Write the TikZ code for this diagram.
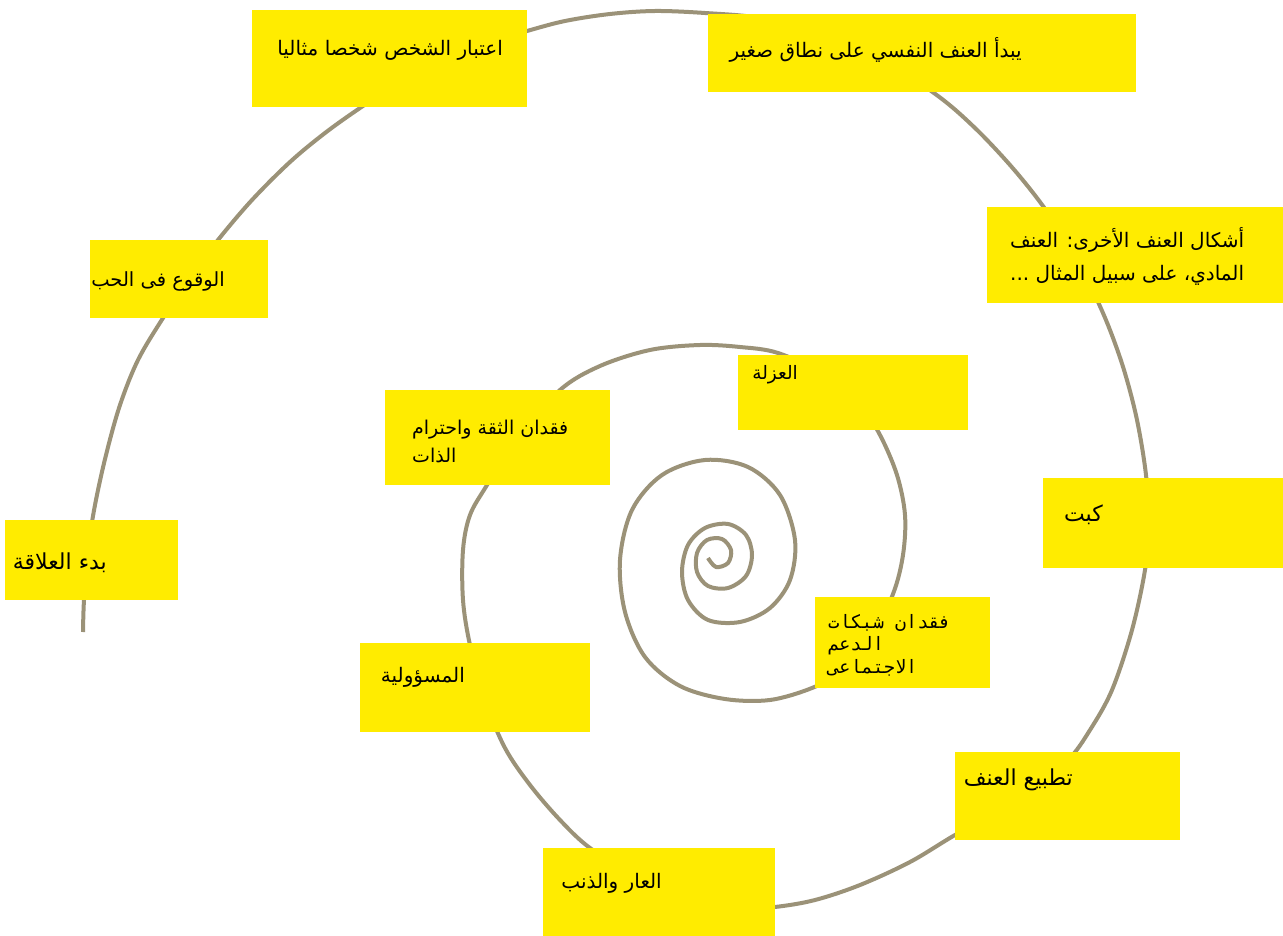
\documentclass[tikz,border=0pt]{standalone}
\usepackage{fontspec}
\TeXXeTstate=1
\newfontfamily\arabicfont[Script=Arabic]{DejaVu Sans}
\newfontfamily\arabicmono[Script=Arabic]{DejaVu Sans Mono}
\definecolor{note}{RGB}{255,236,0}
\definecolor{coil}{RGB}{155,146,120}
\begin{document}
\begin{tikzpicture}[x=1pt,y=-1pt,
  notebox/.style={fill=note,draw=none,inner sep=0pt},
  lbl/.style={inner sep=0pt,font=\arabicfont\fontsize{20}{24}\selectfont,text=black},
  coilline/.style={draw=coil,line width=4pt,line cap=butt}]
\useasboundingbox (0,0) rectangle (1283,936);
\fill[white] (0,0) rectangle (1283,936);
\draw[coilline] plot[smooth,tension=0.55] coordinates {
(83,632) (84,600) (88,550) (95,505) (106,455) (120,405) (138,360) (163,318) (190,278) (218,240)
(252,200) (290,162) (325,133) (360,108) (400,82) (445,58) (490,42) (527,31) (565,21) (610,14)
(655,11) (705,13) (760,18) (820,33) (880,58) (938,96) (975,128) (1010,165) (1040,202) (1068,243)
(1090,285) (1108,325) (1124,370) (1137,420) (1146,475) (1149,525) (1145,570) (1132,630) (1112,690)
(1090,730) (1068,760) (1030,790) (990,817) (955,835) (910,862) (860,885) (815,900) (775,907) (730,910)
(680,900) (635,875) (590,848) (560,820) (530,785) (505,748) (485,700) (470,645) (463,600)
(463,550) (470,515) (487,485) (515,440) (560,390) (600,366) (650,350) (700,345) (740,347)
(778,353) (825,375) (860,405) (880,435) (897,475) (905,515) (903,555) (893,594) (870,640)
(840,672) (812,688) (770,700) (725,699) (680,686) (645,657) (625,612) (620,560) (632,510)
(662,475) (705,460) (748,467) (780,495) (795,540) (790,580) (770,608) (740,622) (708,620)
(688,600) (682,572) (688,545) (705,528) (728,524) (746,535) (752,555) (746,576) (728,588)
(708,586) (697,572) (697,553) (707,540) (722,539) (731,550) (728,563) (716,567) (708,558)};
% boxes
\node[notebox,minimum width=275pt,minimum height=97pt] (b1) at (389.5,58.5) {};
\node[notebox,minimum width=428pt,minimum height=78pt] (b2) at (922,53) {};
\node[notebox,minimum width=296pt,minimum height=96pt] (b3) at (1135,255) {};
\node[notebox,minimum width=178pt,minimum height=78pt] (b4) at (179,279) {};
\node[notebox,minimum width=225pt,minimum height=95pt] (b5) at (497.5,437.5) {};
\node[notebox,minimum width=230pt,minimum height=75pt] (b6) at (853,392.5) {};
\node[notebox,minimum width=173pt,minimum height=80pt] (b7) at (91.5,560) {};
\node[notebox,minimum width=175pt,minimum height=91pt] (b8) at (902.5,642.5) {};
\node[notebox,minimum width=230pt,minimum height=89pt] (b9) at (475,687.5) {};
\node[notebox,minimum width=225pt,minimum height=88pt] (b10) at (1067.5,796) {};
\node[notebox,minimum width=232pt,minimum height=88pt] (b11) at (659,892) {};
\node[notebox,minimum width=240pt,minimum height=90pt] (b12) at (1163,523) {};
% labels
\node[lbl,anchor=east] (t1) at (503,50) {\beginR اعتبار الشخص شخصا مثاليا\endR};
\node[lbl,anchor=east] (t2) at (1022,50) {\beginR يبدأ العنف النفسي على نطاق صغير\endR};
\node[lbl,anchor=west,align=left,font=\arabicfont\fontsize{20}{33}\selectfont] (t3) at (1010,256)
  {\beginR أشكال العنف الأخرى: العنف\endR\\\beginR المادي، على سبيل المثال ...\endR};
\node[lbl,anchor=east,font=\arabicfont\fontsize{19.5}{24}\selectfont] (t4) at (225,281) {\beginR الوقوع فى الحب\endR};
\node[lbl,anchor=west,align=left,font=\arabicfont\fontsize{19}{28}\selectfont] (t5) at (412,441)
  {\beginR فقدان الثقة واحترام\endR\\\beginR الذات\endR};
\node[lbl,anchor=east,font=\arabicfont\fontsize{18.5}{24}\selectfont] (t6) at (798,375) {\beginR العزلة\endR};
\node[lbl,anchor=east,font=\arabicfont\fontsize{22}{24}\selectfont] (t7) at (107,563) {\beginR بدء العلاقة\endR};
\node[lbl,anchor=west,align=left,font=\arabicmono\fontsize{18.5}{22.5}\selectfont] (t8) at (828,645)
  {\beginR فقدان شبكات\endR\\\beginR الدعم\endR\\\beginR الاجتماعى\endR};
\node[lbl,anchor=east] (t9) at (465,677) {\beginR المسؤولية\endR};
\node[lbl,anchor=east,font=\arabicfont\fontsize{22}{24}\selectfont] (t10) at (1073,780) {\beginR تطبيع العنف\endR};
\node[lbl,anchor=east] (t11) at (662,883) {\beginR العار والذنب\endR};
\node[lbl,anchor=east,font=\arabicfont\fontsize{22}{24}\selectfont] (t12) at (1103,515) {\beginR كبت\endR};
\end{tikzpicture}
\end{document}
